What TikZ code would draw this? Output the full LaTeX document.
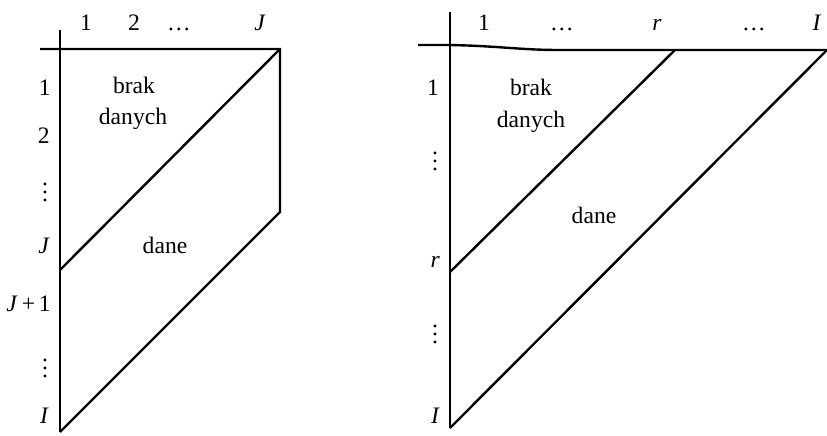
\documentclass[tikz,border=0pt]{standalone}
\usepackage{fontspec}
\setmainfont{Liberation Serif}
\begin{document}
\begin{tikzpicture}[x=0.5pt,y=-0.5pt,line width=1.2pt,
    every node/.style={font=\fontsize{11.8}{14}\selectfont,inner sep=0pt},
    collab/.style={anchor=base},
    rowlab/.style={anchor=base east}]
  \useasboundingbox (0,0) rectangle (827,435);
  % left table: J columns, I rows
  \coordinate (lTop) at (60,30);
  \coordinate (lBot) at (60,432);
  \coordinate (lHl) at (40,49);
  \coordinate (lCorner) at (280,49);
  \coordinate (lRight) at (280,212);
  \coordinate (lJ) at (60,270);
  \draw (lTop) -- (lBot);
  \draw (lHl) -- (lCorner) -- (lRight) -- (lBot);
  \draw (lCorner) -- (lJ);
  \node[collab] (lc1) at (86,30) {1};
  \node[collab] (lc2) at (134,30) {2};
  \node[collab] (lcd) at (179,30) {\dots};
  \node[collab] (lcJ) at (260,30) {\textit{J}};
  \node[rowlab] (lr1) at (52,95) {1};
  \node[rowlab] (lr2) at (51,143) {2};
  \node (lrd1) at (45,186) {$\vdots$};
  \node[rowlab] (lrJ) at (51,253) {\textit{J}};
  \node[rowlab] (lrJ1) at (52,311) {\textit{J}\,+\,1};
  \node (lrd2) at (45,362) {$\vdots$};
  \node[rowlab] (lrI) at (50,423) {\textit{I}};
  \node[collab] (lbrak) at (134,93) {brak};
  \node[collab] (ldanych) at (133,124) {danych};
  \node[collab] (ldane) at (165,253) {dane};
  % right table: I columns, I rows
  \coordinate (rTop) at (450,12);
  \coordinate (rBot) at (450,428);
  \coordinate (rHl) at (418,45);
  \coordinate (rCross) at (450,45);
  \coordinate (rEnd) at (827,50);
  \coordinate (rR) at (675,50);
  \coordinate (rRow) at (450,272);
  \draw (rTop) -- (rBot);
  \draw (rHl) -- (rCross) .. controls (500,46) and (520,50) .. (560,50) -- (rEnd);
  \draw (rR) -- (rRow);
  \draw (rEnd) -- (rBot);
  \node[collab] (rc1) at (484,30) {1};
  \node[collab] (rcd1) at (562,30) {\dots};
  \node[collab] (rcr) at (657,30) {\textit{r}};
  \node[collab] (rcd2) at (754,30) {\dots};
  \node[collab] (rcI) at (817,30) {\textit{I}};
  \node[rowlab] (rr1) at (440,95) {1};
  \node (rrd1) at (435,155) {$\vdots$};
  \node[rowlab] (rrr) at (441,267) {\textit{r}};
  \node (rrd2) at (435,328) {$\vdots$};
  \node[rowlab] (rrI) at (441,423) {\textit{I}};
  \node[collab] (rbrak) at (531,95) {brak};
  \node[collab] (rdanych) at (531,127) {danych};
  \node[collab] (rdane) at (594,223) {dane};
\end{tikzpicture}
\end{document}
